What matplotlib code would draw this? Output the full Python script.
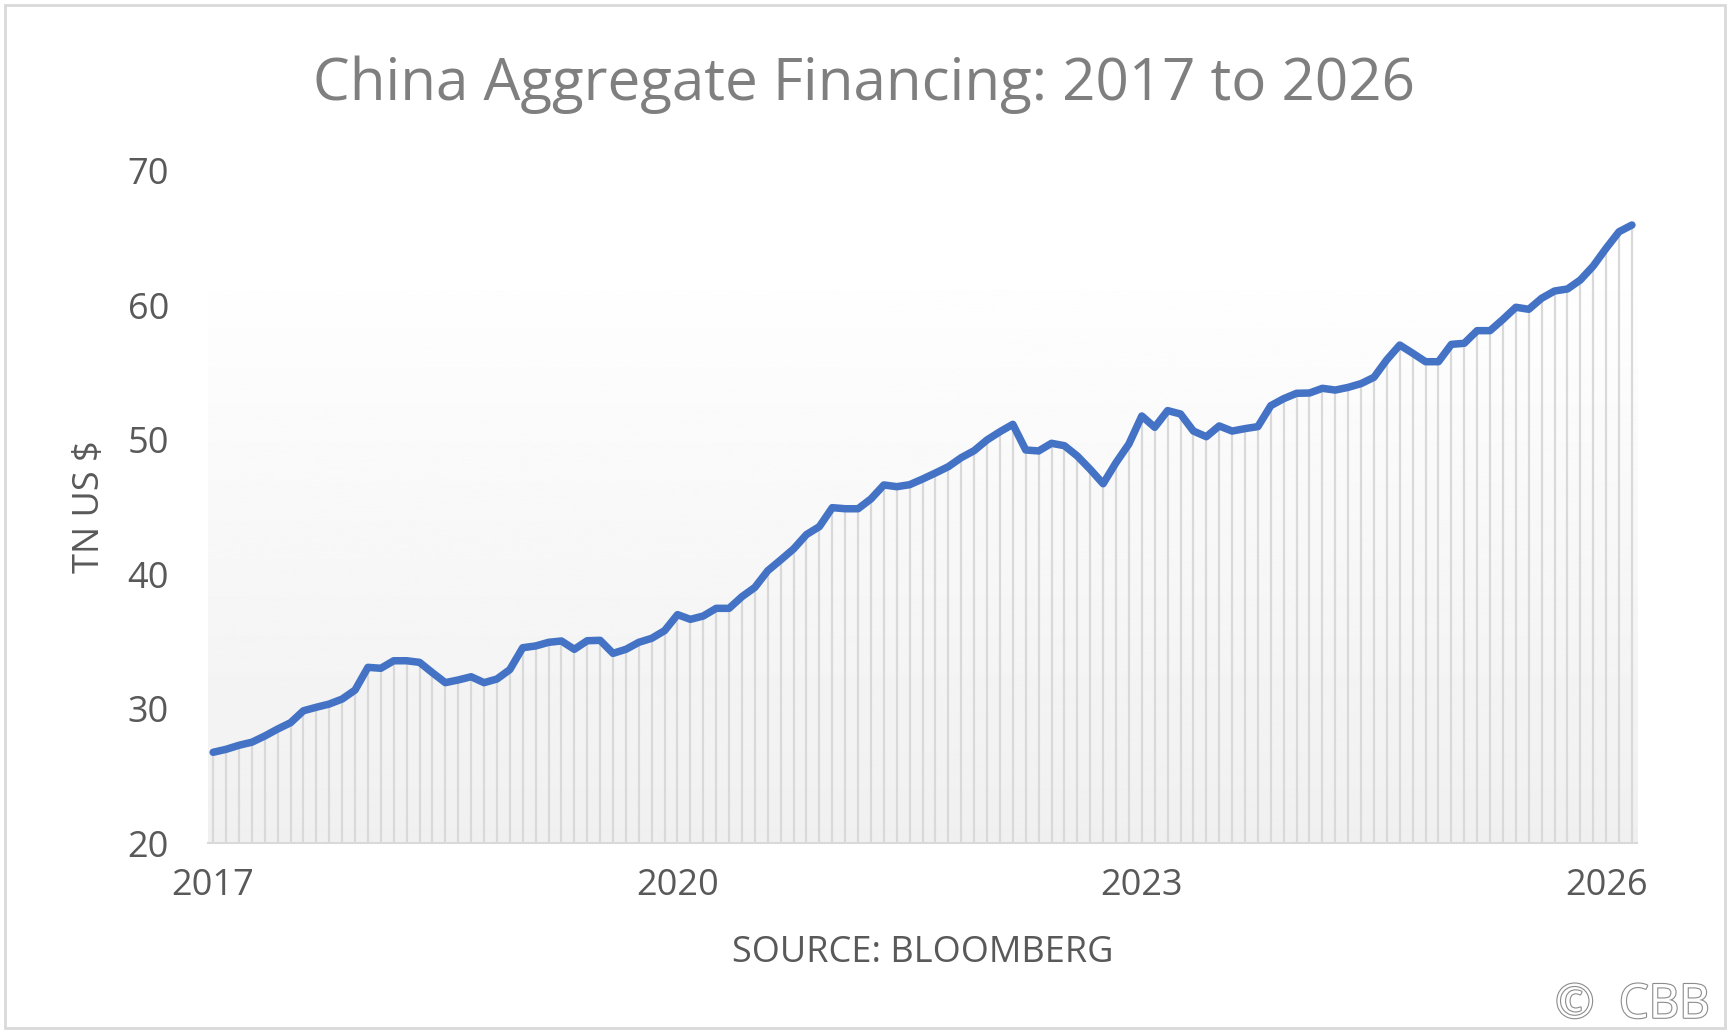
import matplotlib
matplotlib.use("Agg")
import matplotlib.pyplot as plt
import matplotlib.patheffects as pe
from matplotlib.patches import Rectangle
import numpy as np
import pandas as pd

plt.rcParams['font.family'] = ['Open Sans', 'DejaVu Sans']

# monthly aggregate financing stock, TN US$, Jan 2017 onwards
values = [
    26.75, 26.97, 27.27, 27.50, 27.96, 28.48, 28.95, 29.84, 30.10, 30.34, 30.71, 31.38,
    33.07, 33.00, 33.56, 33.56, 33.44, 32.67, 31.93, 32.13, 32.37, 31.93, 32.20, 32.90,
    34.53, 34.66, 34.93, 35.03, 34.41, 35.05, 35.08, 34.11, 34.41, 34.93, 35.23, 35.80,
    36.99, 36.64, 36.89, 37.46, 37.46, 38.33, 39.02, 40.26, 41.06, 41.88, 42.95, 43.54,
    44.95, 44.87, 44.87, 45.60, 46.64, 46.51, 46.66, 47.08, 47.53, 48.00, 48.67, 49.19,
    49.99, 50.60, 51.15, 49.24, 49.17, 49.74, 49.56, 48.79, 47.80, 46.73, 48.30, 49.69,
    51.77, 50.93, 52.17, 51.92, 50.65, 50.23, 51.03, 50.65, 50.83, 50.98, 52.54, 53.06,
    53.46, 53.48, 53.83, 53.70, 53.90, 54.18, 54.65, 55.96, 57.05, 56.44, 55.81, 55.81,
    57.10, 57.18, 58.12, 58.12, 58.96, 59.86, 59.71, 60.53, 61.07, 61.22, 61.89, 62.93,
    64.25, 65.48, 65.98,
]
tick_years = [2017, 2020, 2023, 2026]
y_ticks = [20, 30, 40, 50, 60, 70]

dates = pd.date_range('2017-01-01', periods=len(values), freq='MS')
x = np.arange(len(values))
tick_pos = [int(np.where(dates == pd.Timestamp(f'{y}-01-01'))[0][0]) for y in tick_years]

fig = plt.figure(figsize=(17.32, 10.35), dpi=100)
ax = fig.add_axes([0.1201, 0.1855, 0.8251, 0.6493])

x0, x1 = x[0] - 0.4, x[-1] + 0.4
ax.set_xlim(x0, x1)
ax.set_ylim(20, 70)

# plot area gradient fill
grad = np.linspace(0.996, 0.94, 256).reshape(-1, 1)
ax.imshow(grad, cmap='gray', vmin=0, vmax=1, extent=[x0, x1, 20, 61.1],
          aspect='auto', origin='upper', zorder=0)

ax.vlines(x, 20, values, color='#d9d9d9', linewidth=1.6, zorder=1)
ax.plot(x, values, color='#4472C4', linewidth=5.4, solid_capstyle='round',
        solid_joinstyle='round', zorder=3)

for s in ['top', 'right', 'left']:
    ax.spines[s].set_visible(False)
ax.spines['bottom'].set_color('#d9d9d9')
ax.spines['bottom'].set_linewidth(1.5)
ax.set_facecolor('none')

ax.set_yticks(y_ticks)
ax.set_xticks(tick_pos)
ax.set_xticklabels([str(y) for y in tick_years])
ax.tick_params(axis='both', length=0, labelsize=26, labelcolor='#595959')
ax.tick_params(axis='y', pad=28)
ax.tick_params(axis='x', pad=18)

ax.set_ylabel('TN US $', fontsize=26, color='#595959', labelpad=14)
ax.set_xlabel('SOURCE: BLOOMBERG', fontsize=26, color='#595959', labelpad=22)

fig.text(0.499, 0.918, 'China Aggregate Financing: 2017 to 2026', fontsize=42,
         color='#7f7f7f', ha='center', va='center')

fig.text(0.987, 0.029, '©  CBB', fontsize=34, color='white', ha='right', va='center',
         path_effects=[pe.withStroke(linewidth=1.6, foreground='#8c8c8c')])

fig.patches.append(Rectangle((0.003, 0.007), 0.993, 0.988, transform=fig.transFigure,
                             fill=False, edgecolor='#d9d9d9', linewidth=2))

fig.savefig('out.png', dpi=100)
